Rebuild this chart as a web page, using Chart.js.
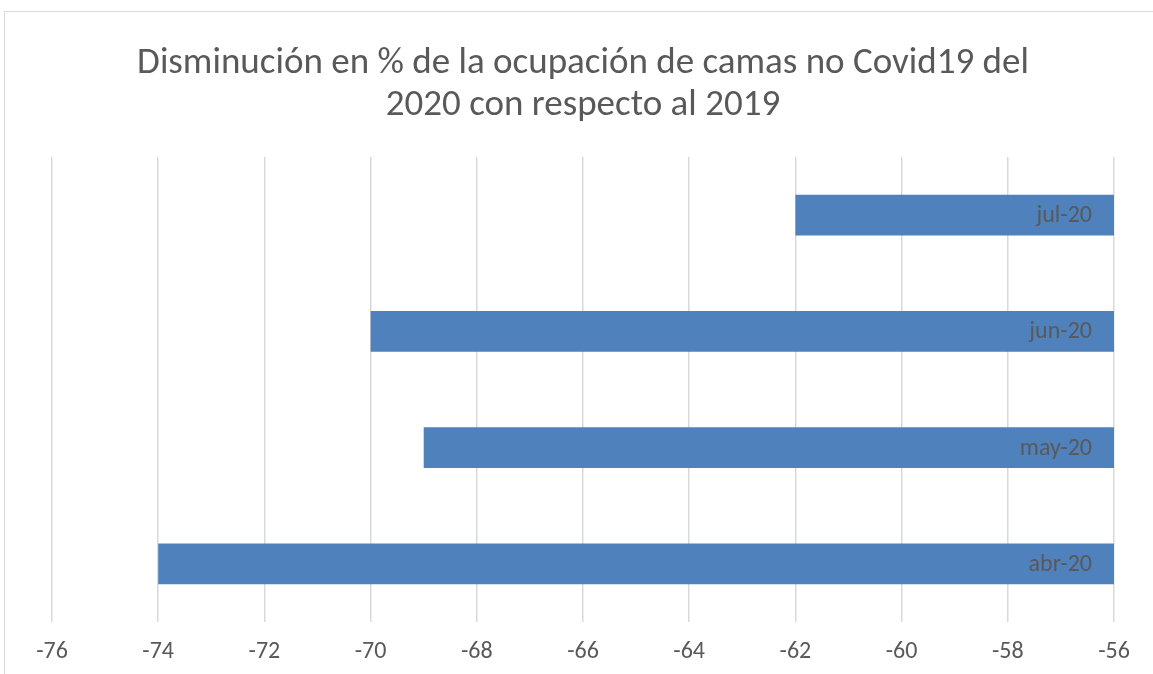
<!DOCTYPE html>
<html>
<head>
<meta charset="utf-8">
<script src="https://cdn.jsdelivr.net/npm/chart.js@4"></script>
<style>
    body { margin: 0; background: #fff; }
    #marco { position: absolute; left: 4px; top: 11px; width: 1160px; height: 680px; border: 1px solid #d9d9d9; }
    #wrapper { position: absolute; left: 0; top: 0; width: 1153px; height: 674px; }
</style>
</head>
<body>
<div id="marco"></div>
<div id="wrapper"><canvas id="myChart"></canvas></div>
<script>
"use strict"
let meses = ["jul-20", "jun-20", "may-20", "abr-20"];
let valori = [-62, -70, -69, -74];
let titolo = ["Disminución en % de la ocupación de camas no Covid19 del", "2020 con respecto al 2019"];
let asseMin = -76;
let asseMax = -56;
let passo = 2;

let grigio = "#595959";
let font = "Carlito, Calibri, Lato, sans-serif";

// etichette dei mesi dentro le barre, sopra il colore
let etichette = {
    id: "etichette",
    afterDatasetsDraw: function (chart) {
        let c = chart.ctx;
        let x = chart.scales.x;
        let y = chart.scales.y;
        c.save();
        c.font = "24px " + font;
        c.fillStyle = grigio;
        c.textAlign = "right";
        c.textBaseline = "middle";
        for (let i = 0; i < meses.length; i++) {
            c.fillText(meses[i], x.right - 22, y.getPixelForTick(i) + 1);
        }
        c.restore();
    }
};

var ctx = document.getElementById("myChart").getContext("2d");
var myChart = new Chart(ctx, {
    type: "bar",
    data: {
        labels: meses,
        datasets: [{
            data: valori,
            backgroundColor: "#4f81bd",
            borderWidth: 0,
            barPercentage: 0.35,
            categoryPercentage: 1
        }]
    },
    options: {
        indexAxis: "y",
        responsive: true,
        maintainAspectRatio: false,
        animation: false,
        layout: { padding: { left: 52, right: 39, top: 43, bottom: 7 } },
        plugins: {
            legend: { display: false },
            tooltip: { enabled: false },
            title: {
                display: true,
                text: titolo,
                color: grigio,
                font: { family: font, size: 37, weight: "normal", lineHeight: 1.135 },
                padding: { top: 0, bottom: 30 }
            }
        },
        scales: {
            x: {
                min: asseMin,
                max: asseMax,
                ticks: {
                    stepSize: passo,
                    color: grigio,
                    font: { family: font, size: 24 },
                    padding: 16
                },
                grid: { color: "#d9d9d9", lineWidth: 1.5, drawTicks: false },
                border: { display: false },
                afterFit: function (scale) {
                    scale.height = 45;
                }
            },
            y: { display: false }
        }
    },
    plugins: [etichette]
});
</script>
</body>
</html>
